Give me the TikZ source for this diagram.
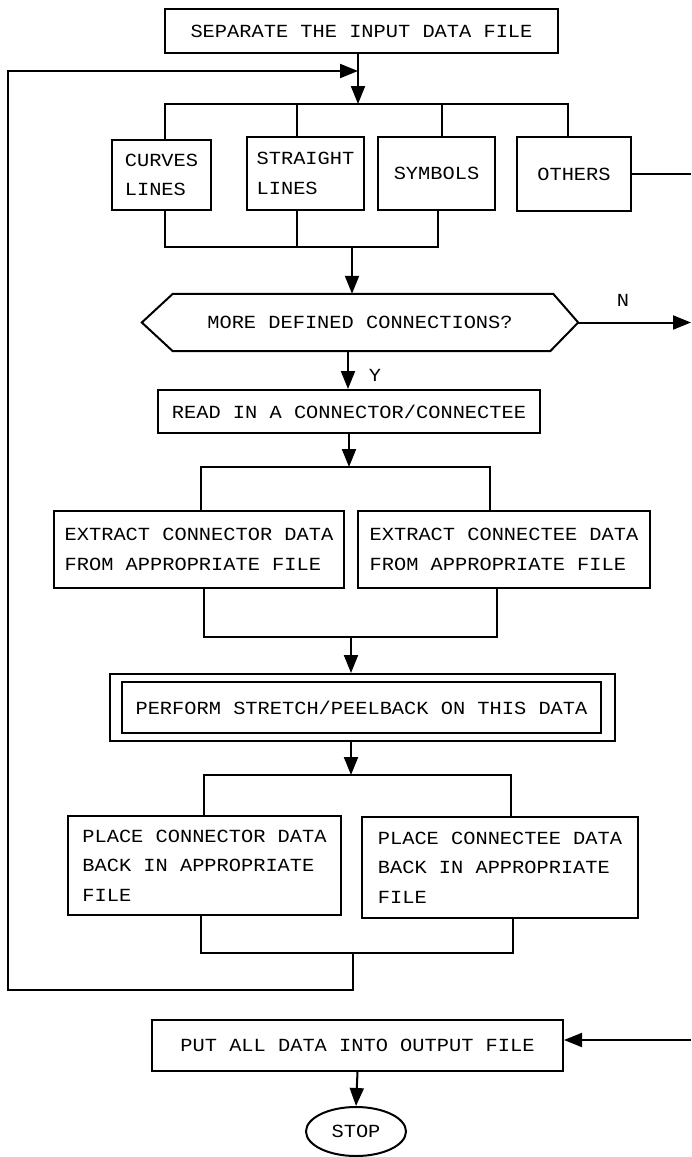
\documentclass[tikz,border=0pt]{standalone}
\usepackage{fontspec}
\setmonofont[FakeStretch=1.1]{Liberation Mono}
\usetikzlibrary{arrows.meta,shapes.geometric}
\begin{document}
\begin{tikzpicture}[x=1pt,y=-1pt,
  every node/.style={font=\ttfamily\fontsize{18.5}{29.5}\selectfont, inner sep=0pt},
  box/.style={draw, line width=2pt, align=left},
  ln/.style={line width=2pt},
  arr/.style={line width=2pt, -{Triangle[length=18pt,width=14pt]}},
]
\fill[white] (0,0) rectangle (691,1157);
\useasboundingbox (0,0) rectangle (691,1157);

% nodes
\node[box, minimum width=393pt, minimum height=44pt] (top) at (361.5,31) {SEPARATE THE INPUT DATA FILE};
\node[box, minimum width=99pt, minimum height=70pt] (curves) at (161.5,175) {CURVES\\LINES};
\node[box, minimum width=117pt, minimum height=73pt] (straight) at (305.5,173.5) {STRAIGHT\\LINES};
\node[box, minimum width=117pt, minimum height=73pt] (symbols) at (436.5,173.5) {SYMBOLS};
\node[box, minimum width=114pt, minimum height=74pt] (others) at (574,174) {OTHERS};
\node[minimum width=436pt, minimum height=57pt] (dec) at (360,322.5) {MORE DEFINED CONNECTIONS?};
\draw[line width=2pt, line join=miter] (dec.west) -- ([xshift=31pt]dec.north west) -- ([xshift=-25pt]dec.north east) -- (dec.east) -- ([xshift=-28pt]dec.south east) -- ([xshift=31pt]dec.south west) -- cycle;
\node (nlab) at (623,300) {N};
\node (ylab) at (375,375) {Y};
\node[box, minimum width=382pt, minimum height=43pt] (read) at (349,411.5) {READ IN A CONNECTOR/CONNECTEE};
\node[box, minimum width=290pt, minimum height=77pt] (ext1) at (199,549.5) {EXTRACT CONNECTOR DATA\\FROM APPROPRIATE FILE};
\node[box, minimum width=292pt, minimum height=77pt] (ext2) at (504,549.5) {EXTRACT CONNECTEE DATA\\FROM APPROPRIATE FILE};
\node[draw, line width=2pt, minimum width=505pt, minimum height=67pt] (perfo) at (362.5,707.5) {};
\node[box, minimum width=479pt, minimum height=51pt] (perf) at (361.5,707.5) {PERFORM STRETCH/PEELBACK ON THIS DATA};
\node[box, minimum width=273pt, minimum height=99pt] (place1) at (204.5,865.5) {PLACE CONNECTOR DATA\\BACK IN APPROPRIATE\\FILE};
\node[box, minimum width=276pt, minimum height=101pt] (place2) at (500,867.5) {PLACE CONNECTEE DATA\\BACK IN APPROPRIATE\\FILE};
\node[box, minimum width=411pt, minimum height=51pt] (put) at (357.5,1045.5) {PUT ALL DATA INTO OUTPUT FILE};
\node[draw, line width=2pt, ellipse, minimum width=100pt, minimum height=49pt] (stop) at (356,1131.5) {STOP};

% helper coordinates
\coordinate (R) at (691,0);
\coordinate (j1) at (358,104);
\coordinate (b1) at (165,104);
\coordinate (b2) at (297,104);
\coordinate (b3) at (442,104);
\coordinate (b4) at (568,104);
\coordinate (c1) at (165,247);
\coordinate (c2) at (297,247);
\coordinate (c3) at (438,247);
\coordinate (cj) at (352,247);
\coordinate (ya) at (348,351);
\coordinate (ra) at (349,467);
\coordinate (d1) at (201,467);
\coordinate (d2) at (490,467);
\coordinate (e1) at (204,637);
\coordinate (e2) at (497,637);
\coordinate (ej) at (351,637);
\coordinate (f) at (351,775);
\coordinate (f1) at (204,775);
\coordinate (f2) at (511,775);
\coordinate (g1) at (201,953);
\coordinate (g2) at (513,953);
\coordinate (gj) at (353,953);
\coordinate (L1) at (353,990);
\coordinate (L2) at (8,990);
\coordinate (L3) at (8,71);
\coordinate (lt) at (358,71);
\coordinate (pa) at (691,1040);

% connectors
\draw[arr] (top.south -| j1) -- (j1);
\draw[ln] (curves.north -| b1) -- (b1) -- (b4) -- (others.north -| b4);
\draw[ln] (straight.north -| b2) -- (b2);
\draw[ln] (symbols.north -| b3) -- (b3);
\draw[ln] (others.east) -- (others.east -| R);
\draw[ln] (curves.south -| c1) -- (c1) -- (c3) -- (symbols.south -| c3);
\draw[ln] (straight.south -| c2) -- (c2);
\draw[arr] (cj) -- (dec.north -| cj);
\draw[arr] (dec.east) -- (dec.east -| R);
\draw[arr] (dec.south -| ya) -- (read.north -| ya);
\draw[arr] (read.south -| ra) -- (ra);
\draw[ln] (ext1.north -| d1) -- (d1) -- (d2) -- (ext2.north -| d2);
\draw[ln] (ext1.south -| e1) -- (e1) -- (e2) -- (ext2.south -| e2);
\draw[arr] (ej) -- (perfo.north -| ej);
\draw[arr] (perfo.south -| f) -- (f);
\draw[ln] (place1.north -| f1) -- (f1) -- (f2) -- (place2.north -| f2);
\draw[ln] (place1.south -| g1) -- (g1) -- (g2) -- (place2.south -| g2);
\draw[arr] (gj) -- (L1) -- (L2) -- (L3) -- (lt);
\draw[arr] (pa) -- (put.east |- pa);
\draw[arr] (put.south) -- (stop.north);
\end{tikzpicture}
\end{document}
